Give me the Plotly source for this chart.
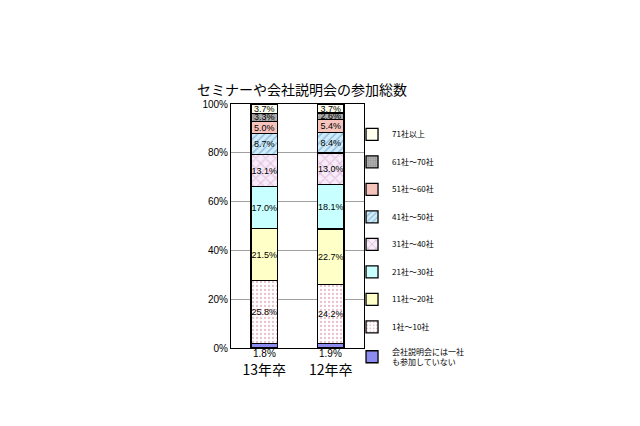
import plotly.graph_objects as go

categories = ["13年卒", "12年卒"]
series_names = [
    "会社説明会には一社<br>も参加していない",
    "1社～10社",
    "11社～20社",
    "21社～30社",
    "31社～40社",
    "41社～50社",
    "51社～60社",
    "61社～70社",
    "71社以上",
]
values_13 = [1.8, 25.8, 21.5, 17.0, 13.1, 8.7, 5.0, 3.3, 3.7]
values_12 = [1.9, 24.2, 22.7, 18.1, 13.0, 8.4, 5.4, 2.6, 3.7]
y_ticks = [0, 20, 40, 60, 80, 100]

# fill styles per series (bottom to top)
styles = [
    dict(color="#8c8cf0"),
    dict(color="white", pattern=dict(shape=".", fgcolor="#d08098", bgcolor="white", size=4, solidity=0.25)),
    dict(color="#ffffc8"),
    dict(color="#c8ffff"),
    dict(color="#f4e0f4", pattern=dict(shape="x", fgcolor="#c890c8", bgcolor="#f8ecf8", size=7, solidity=0.3)),
    dict(color="#cce8f8", pattern=dict(shape="/", fgcolor="#5890c0", bgcolor="#d0ecfa", size=5, solidity=0.3)),
    dict(color="#f6c4bc"),
    dict(color="#a8a8a8", pattern=dict(shape=".", fgcolor="#707070", bgcolor="#b0b0b0", size=3, solidity=0.3)),
    dict(color="#fffff0"),
]

font_family = "Liberation Sans, Noto Sans CJK JP"

fig = go.Figure()
for i, name in enumerate(series_names):
    vals = [values_13[i], values_12[i]]
    texts = ["" if i == 0 else f"{v:.1f}%" for v in vals]
    fig.add_trace(go.Bar(
        name=name, x=categories, y=vals, text=texts,
        textposition="inside", insidetextanchor="middle", textangle=0,
        textfont=dict(size=10, color="black", family=font_family),
        marker=dict(line=dict(color="black", width=1.3), **styles[i]),
        legendgroup=f"g{i}", legendrank=100 - i, width=0.4,
    ))

# bottom segment values shown just under the bars
for c, v in zip(categories, [values_13[0], values_12[0]]):
    fig.add_annotation(x=c, y=0, text=f"{v:.1f}%", showarrow=False,
                       yanchor="top", yshift=2, font=dict(size=10))

fig.update_layout(
    barmode="stack",
    width=640, height=426,
    margin=dict(l=223, r=284, t=96, b=86),
    paper_bgcolor="white", plot_bgcolor="white",
    font=dict(family=font_family, size=10, color="black"),
    title=dict(text="セミナーや会社説明会の参加総数", x=189/640, xanchor="left",
               xref="container", yref="container", y=(426-82)/426, yanchor="middle",
               font=dict(size=14, family="Noto Sans CJK JP")),
    uniformtext=dict(minsize=8, mode="show"),
    legend=dict(x=0.91, y=0.935, xanchor="left", yanchor="top",
                traceorder="grouped", tracegroupgap=8.5, maxheight=400,
                font=dict(size=8, family="Noto Sans CJK JP"),
                itemwidth=30, bgcolor="rgba(0,0,0,0)"),
    showlegend=True,
)
fig.update_xaxes(tickvals=categories, ticktext=categories, showline=True, linecolor="black",
                 mirror=True, ticks="", tickfont=dict(size=14, family="Noto Sans CJK JP"),
                 ticklabelstandoff=9)
fig.update_yaxes(range=[0, 100], tickvals=y_ticks, ticktext=[f"{t}%" for t in y_ticks],
                 showgrid=True, gridcolor="#a0a0a0", gridwidth=1, showline=True,
                 linecolor="black", mirror=True, ticks="", zeroline=False,
                 tickfont=dict(size=10))

fig.write_html("out.html")
